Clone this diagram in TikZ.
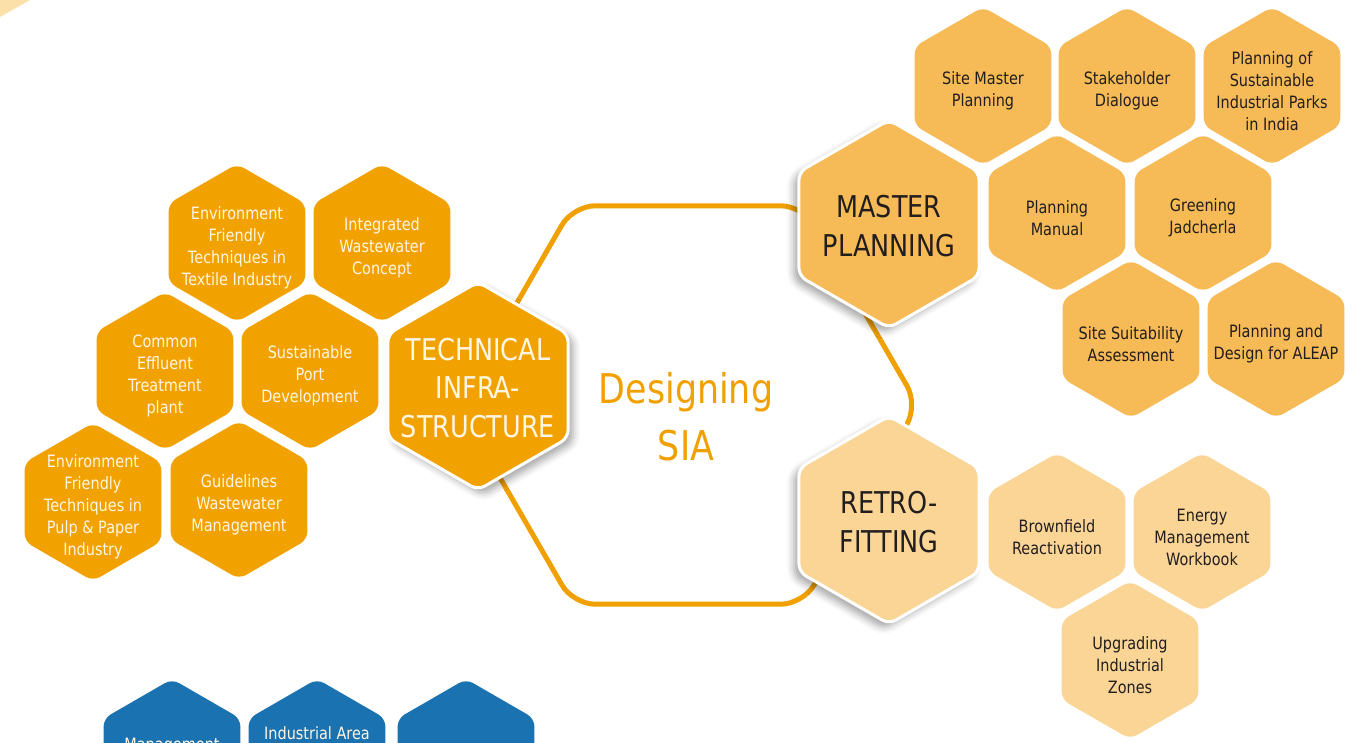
\documentclass[tikz,border=0pt]{standalone}
\usepackage{fontspec}
\setmainfont{DejaVu Sans}[FakeStretch=0.85]
\usetikzlibrary{shapes.geometric, shadows.blur}

\definecolor{hexdark}{RGB}{242,162,0}
\definecolor{hexmid}{RGB}{246,186,87}
\definecolor{hexlight}{RGB}{250,213,150}
\definecolor{hexblue}{RGB}{26,114,176}
\definecolor{sialine}{RGB}{240,160,0}
\definecolor{textk}{RGB}{34,30,30}
\definecolor{textw}{RGB}{255,246,228}
\definecolor{cornerfill}{RGB}{251,224,170}

\begin{document}
\begin{tikzpicture}
		[x=1pt, y=-1pt,
		hex/.style = {regular polygon, regular polygon sides=6, shape border rotate=30, minimum size=158pt, inner sep=0pt, rounded corners=8pt},
		hexd/.style = {hex, fill=hexdark},
		hexm/.style = {hex, fill=hexmid},
		hexl/.style = {hex, fill=hexlight},
		hexb/.style = {hex, fill=hexblue},
		big/.style = {hex, minimum size=208pt, draw=white, line width=3pt},
		t/.style = {align=center, inner sep=0pt, yshift=-5pt, font=\fontsize{17}{22}\selectfont},
		tw/.style = {t, text=textw},
		tk/.style = {t, text=textk},
		tbig/.style = {align=center, inner sep=0pt, yshift=-2pt, font=\fontsize{30}{38.5}\selectfont}]

		\useasboundingbox (0,0) rectangle (1367,742);
		\clip (0,0) rectangle (1367,742);

		\fill[cornerfill] (0,0) -- (30,0) -- (0,17) -- cycle;

		% outline hexagon in the middle
		\node[regular polygon, regular polygon sides=6, minimum size=460pt, draw=sialine, line width=5pt, rounded corners=22pt] (sia) at (688,405) {};
		\node[align=center, text=sialine, font=\fontsize{41}{57}\selectfont] (siat) at (686,417) {Designing\\SIA};

		% technical infrastructure
		\foreach \x/\y/\alph/\name in {
			237/243/textile/{Environment\\Friendly\\Techniques in\\Textile Industry},
			382/243/iwc/{Integrated\\Wastewater\\Concept},
			165/371/cetp/{Common\\Effluent\\Treatment\\plant},
			310/371/port/{Sustainable\\Port\\Development},
			93/502/pulp/{Environment\\Friendly\\Techniques in\\Pulp \& Paper\\Industry},
			239/500/gww/{Guidelines\\Wastewater\\Management}}{
			\node[hexd] (\alph) at (\x,\y) {};
			\node[tw] (\alph-t) at (\alph) {\name};
		}

		% master planning
		\foreach \x/\y/\alph/\name in {
			983/86/smp/{Site Master\\Planning},
			1127/86/sd/{Stakeholder\\Dialogue},
			1272/86/psip/{Planning of\\Sustainable\\Industrial Parks\\in India},
			1057/213/pm/{Planning\\Manual},
			1203/213/gj/{Greening\\Jadcherla},
			1131/339/ssa/{Site Suitability\\Assessment},
			1276/339/aleap/{Planning and\\Design for ALEAP}}{
			\node[hexm] (\alph) at (\x,\y) {};
			\node[tk] (\alph-t) at (\alph) {\name};
		}

		% retro-fitting
		\foreach \x/\y/\alph/\name in {
			1057/532/bfr/{Brownfield\\Reactivation},
			1202/532/emw/{Energy\\Management\\Workbook},
			1130/660/uiz/{Upgrading\\Industrial\\Zones}}{
			\node[hexl] (\alph) at (\x,\y) {};
			\node[tk] (\alph-t) at (\alph) {\name};
		}

		% blue row, cut by the page
		\node[hexb] (mgmt) at (172,758) {};
		\node[hexb] (iam) at (317,758) {};
		\node[hexb] (blue3) at (466,758) {};
		\node[tw, yshift=5pt] (mgmt-t) at (172,746) {Management};
		\node[tw, yshift=5pt] (iam-t) at (317,733) {Industrial Area};

		% the three big ones
		\node[big, fill=hexdark, blur shadow={shadow xshift=5pt, shadow yshift=-5pt, shadow blur radius=7pt, shadow opacity=35}] (tech) at (478,386) {};
		\node[tbig, text=textw] (tech-t) at (tech) {TECHNICAL\\INFRA-\\STRUCTURE};
		\node[big, fill=hexmid, blur shadow={shadow xshift=-5pt, shadow yshift=-5pt, shadow blur radius=7pt, shadow opacity=35}] (mp) at (889,224) {};
		\node[tbig, text=textk] (mp-t) at (mp) {MASTER\\PLANNING};
		\node[big, fill=hexlight, blur shadow={shadow xshift=-5pt, shadow yshift=-5pt, shadow blur radius=7pt, shadow opacity=35}] (rf) at (889,520) {};
		\node[tbig, text=textk] (rf-t) at (rf) {RETRO-\\FITTING};
	\end{tikzpicture}
\end{document}
